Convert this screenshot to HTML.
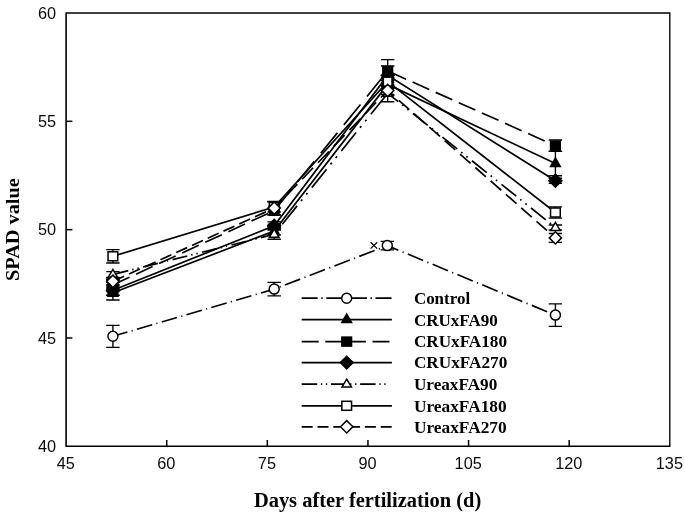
<!DOCTYPE html>
<html><head><meta charset="utf-8"><title>SPAD value chart</title>
<style>html,body{margin:0;padding:0;background:#fff;}svg{display:block;will-change:transform;}</style>
</head><body>
<svg width="685" height="514" viewBox="0 0 685 514">
<rect width="685" height="514" fill="#fff"/>
<path d="M66.1 13.0L669.8 13.0L669.8 446.3" fill="none" stroke="#000" stroke-width="1.35"/>
<path d="M66.1 12.5L66.1 446.3L670.3 446.3" fill="none" stroke="#000" stroke-width="1.6"/>
<path d="M66.1 337.98h6.3" stroke="#000" stroke-width="1.5"/>
<path d="M66.1 229.65h6.3" stroke="#000" stroke-width="1.5"/>
<path d="M66.1 121.33h6.3" stroke="#000" stroke-width="1.5"/>
<path d="M166.72 446.3v-6.3" stroke="#000" stroke-width="1.5"/>
<path d="M267.33 446.3v-6.3" stroke="#000" stroke-width="1.5"/>
<path d="M367.95 446.3v-6.3" stroke="#000" stroke-width="1.5"/>
<path d="M468.57 446.3v-6.3" stroke="#000" stroke-width="1.5"/>
<path d="M569.18 446.3v-6.3" stroke="#000" stroke-width="1.5"/>
<g font-family="Liberation Sans, sans-serif" font-size="16.3" fill="#0a0a0a">
<text x="56.2" y="452.10" text-anchor="end">40</text>
<text x="56.2" y="343.78" text-anchor="end">45</text>
<text x="56.2" y="235.45" text-anchor="end">50</text>
<text x="56.2" y="127.12" text-anchor="end">55</text>
<text x="56.2" y="18.80" text-anchor="end">60</text>
<text x="65.70" y="469.3" text-anchor="middle">45</text>
<text x="166.32" y="469.3" text-anchor="middle">60</text>
<text x="266.93" y="469.3" text-anchor="middle">75</text>
<text x="367.55" y="469.3" text-anchor="middle">90</text>
<text x="468.17" y="469.3" text-anchor="middle">105</text>
<text x="568.78" y="469.3" text-anchor="middle">120</text>
<text x="669.40" y="469.3" text-anchor="middle">135</text>
</g>
<g font-family="Liberation Serif, serif" font-weight="bold" fill="#000">
<text x="253.9" y="506.6" font-size="20" textLength="227.3" lengthAdjust="spacingAndGlyphs">Days after fertilization (d)</text>
<text transform="translate(18.6 281) rotate(-90)" font-size="19" textLength="102.8" lengthAdjust="spacingAndGlyphs">SPAD value</text>
</g>
<path d="M112.90 336.30L274.20 289.10" fill="none" stroke="#000" stroke-width="1.68" stroke-dasharray="15.94 4.38 1.15 4.38" stroke-dashoffset="0.83"/>
<path d="M274.20 289.10L387.30 245.60" fill="none" stroke="#000" stroke-width="1.68" stroke-dasharray="16.39 4.50 1.18 4.50" stroke-dashoffset="15.11"/>
<path d="M387.30 245.60L555.40 315.10" fill="none" stroke="#000" stroke-width="1.68" stroke-dasharray="16.56 4.54 1.19 4.54" stroke-dashoffset="4.60"/>
<path d="M112.90 325.30V347.30M106.20 325.30h13.4M106.20 347.30h13.4M274.20 282.40V295.80M267.50 282.40h13.4M267.50 295.80h13.4M387.30 241.40V249.80M380.60 241.40h13.4M380.60 249.80h13.4M555.40 303.90V326.30M548.70 303.90h13.4M548.70 326.30h13.4" fill="none" stroke="#000" stroke-width="1.35"/>
<circle cx="112.90" cy="336.30" r="5.0" fill="#fff" stroke="#000" stroke-width="1.5"/>
<circle cx="274.20" cy="289.10" r="5.0" fill="#fff" stroke="#000" stroke-width="1.5"/>
<circle cx="387.30" cy="245.60" r="5.0" fill="#fff" stroke="#000" stroke-width="1.5"/>
<circle cx="555.40" cy="315.10" r="5.0" fill="#fff" stroke="#000" stroke-width="1.5"/>
<polyline points="112.90,292.80 274.20,231.00 387.70,84.40 555.40,163.50" fill="none" stroke="#000" stroke-width="1.68"/>
<path d="M112.90 286.80V300.00M106.20 286.80h13.4M106.20 300.00h13.4M274.20 227.00V235.00M267.50 227.00h13.4M267.50 235.00h13.4M387.70 80.40V88.40M381.00 80.40h13.4M381.00 88.40h13.4M555.40 151.30V175.70M548.70 151.30h13.4M548.70 175.70h13.4" fill="none" stroke="#000" stroke-width="1.35"/>
<path d="M112.90 287.20L117.80 295.70L108.00 295.70Z" fill="#000" stroke="#000" stroke-width="1.5" stroke-linejoin="miter"/>
<path d="M274.20 225.40L279.10 233.90L269.30 233.90Z" fill="#000" stroke="#000" stroke-width="1.5" stroke-linejoin="miter"/>
<path d="M387.70 78.80L392.60 87.30L382.80 87.30Z" fill="#000" stroke="#000" stroke-width="1.5" stroke-linejoin="miter"/>
<path d="M555.40 157.90L560.30 166.40L550.50 166.40Z" fill="#000" stroke="#000" stroke-width="1.5" stroke-linejoin="miter"/>
<path d="M112.90 284.80L274.20 210.60" fill="none" stroke="#000" stroke-width="1.68" stroke-dasharray="18.27 7.15" stroke-dashoffset="0.00"/>
<path d="M274.20 210.60L387.70 71.00" fill="none" stroke="#000" stroke-width="1.68" stroke-dasharray="26.31 10.30" stroke-dashoffset="35.98"/>
<path d="M387.70 71.00L555.40 145.70" fill="none" stroke="#000" stroke-width="1.68" stroke-dasharray="18.17 7.12" stroke-dashoffset="23.32"/>
<path d="M112.90 280.20V289.40M106.20 280.20h13.4M106.20 289.40h13.4M274.20 201.70V215.10M267.50 201.70h13.4M267.50 215.10h13.4M387.70 59.60V82.40M381.00 59.60h13.4M381.00 82.40h13.4M555.40 140.00V151.40M548.70 140.00h13.4M548.70 151.40h13.4" fill="none" stroke="#000" stroke-width="1.35"/>
<rect x="108.05" y="280.30" width="9.70" height="9.00" fill="#000" stroke="#000" stroke-width="1.5"/>
<rect x="269.35" y="206.10" width="9.70" height="9.00" fill="#000" stroke="#000" stroke-width="1.5"/>
<rect x="382.85" y="66.50" width="9.70" height="9.00" fill="#000" stroke="#000" stroke-width="1.5"/>
<rect x="550.55" y="141.20" width="9.70" height="9.00" fill="#000" stroke="#000" stroke-width="1.5"/>
<polyline points="112.90,290.30 274.20,225.80 387.70,75.40 555.40,180.70" fill="none" stroke="#000" stroke-width="1.68"/>
<path d="M112.90 282.30V295.30M106.20 282.30h13.4M106.20 295.30h13.4M274.20 221.80V229.80M267.50 221.80h13.4M267.50 229.80h13.4M387.70 66.00V78.40M381.00 66.00h13.4M381.00 78.40h13.4M555.40 178.20V183.20M548.70 178.20h13.4M548.70 183.20h13.4" fill="none" stroke="#000" stroke-width="1.35"/>
<path d="M112.90 283.90L119.30 290.30L112.90 296.70L106.50 290.30Z" fill="#000" stroke="#000" stroke-width="1.5" stroke-linejoin="miter"/>
<path d="M274.20 219.40L280.60 225.80L274.20 232.20L267.80 225.80Z" fill="#000" stroke="#000" stroke-width="1.5" stroke-linejoin="miter"/>
<path d="M387.70 69.00L394.10 75.40L387.70 81.80L381.30 75.40Z" fill="#000" stroke="#000" stroke-width="1.5" stroke-linejoin="miter"/>
<path d="M555.40 174.30L561.80 180.70L555.40 187.10L549.00 180.70Z" fill="#000" stroke="#000" stroke-width="1.5" stroke-linejoin="miter"/>
<rect x="107.3" y="277" width="11.2" height="20" fill="#000"/><path d="M106.20 277.60h13.4M106.20 279.60h13.4M106.20 282.00h13.4M106.20 285.00h13.4M106.20 288.00h13.4M106.20 291.50h13.4M106.20 295.30h13.4" stroke="#000" stroke-width="1.4" fill="none"/><rect x="267.7" y="223.6" width="13.1" height="7" fill="#000"/>
<path d="M112.90 274.50L274.20 234.30" fill="none" stroke="#000" stroke-width="1.68" stroke-dasharray="15.25 4.02 1.34 4.02 1.34 4.43" stroke-dashoffset="29.78"/>
<path d="M274.20 234.30L387.70 93.30" fill="none" stroke="#000" stroke-width="1.68" stroke-dasharray="23.60 6.22 2.07 6.22 2.07 6.86" stroke-dashoffset="34.13"/>
<path d="M387.70 93.30L555.40 227.50" fill="none" stroke="#000" stroke-width="1.68" stroke-dasharray="18.96 5.00 1.67 5.00 1.67 5.51" stroke-dashoffset="5.51"/>
<path d="M112.90 271.60V279.00M106.20 271.60h13.4M106.20 279.00h13.4M274.20 228.80V239.20M267.50 228.80h13.4M267.50 239.20h13.4M387.70 84.90V101.70M381.00 84.90h13.4M381.00 101.70h13.4M555.40 225.00V230.00M548.70 225.00h13.4M548.70 230.00h13.4" fill="none" stroke="#000" stroke-width="1.35"/>
<path d="M112.90 269.40L117.65 277.40L108.15 277.40Z" fill="#fff" stroke="#000" stroke-width="1.5" stroke-linejoin="miter"/>
<path d="M274.20 229.20L278.95 237.20L269.45 237.20Z" fill="#fff" stroke="#000" stroke-width="1.5" stroke-linejoin="miter"/>
<path d="M387.70 88.20L392.45 96.20L382.95 96.20Z" fill="#fff" stroke="#000" stroke-width="1.5" stroke-linejoin="miter"/>
<path d="M555.40 222.40L560.15 230.40L550.65 230.40Z" fill="#fff" stroke="#000" stroke-width="1.5" stroke-linejoin="miter"/>
<polyline points="112.90,256.30 274.20,207.00 387.70,81.70 555.40,212.50" fill="none" stroke="#000" stroke-width="1.68"/>
<path d="M112.90 249.60V263.00M106.20 249.60h13.4M106.20 263.00h13.4M274.20 201.70V212.00M267.50 201.70h13.4M267.50 212.00h13.4M387.70 77.70V85.70M381.00 77.70h13.4M381.00 85.70h13.4M555.40 206.90V218.10M548.70 206.90h13.4M548.70 218.10h13.4" fill="none" stroke="#000" stroke-width="1.35"/>
<rect x="108.05" y="251.80" width="9.70" height="9.00" fill="#fff" stroke="#000" stroke-width="1.5"/>
<rect x="269.35" y="202.50" width="9.70" height="9.00" fill="#fff" stroke="#000" stroke-width="1.5"/>
<rect x="382.85" y="77.20" width="9.70" height="9.00" fill="#fff" stroke="#000" stroke-width="1.5"/>
<rect x="550.55" y="208.00" width="9.70" height="9.00" fill="#fff" stroke="#000" stroke-width="1.5"/>
<path d="M382.9 77.3v9M392.5 77.3v9" stroke="#000" stroke-width="2.4" fill="none"/>
<path d="M112.90 281.30L274.20 208.10" fill="none" stroke="#000" stroke-width="1.68" stroke-dasharray="11.97 5.33" stroke-dashoffset="16.97"/>
<path d="M274.20 208.10L387.70 90.50" fill="none" stroke="#000" stroke-width="1.68" stroke-dasharray="15.70 6.98" stroke-dashoffset="5.04"/>
<path d="M387.70 90.50L555.40 237.90" fill="none" stroke="#000" stroke-width="1.68" stroke-dasharray="14.10 6.27" stroke-dashoffset="5.59"/>
<path d="M112.90 277.50V285.10M106.20 277.50h13.4M106.20 285.10h13.4M274.20 201.30V214.90M267.50 201.30h13.4M267.50 214.90h13.4M387.70 86.50V94.50M381.00 86.50h13.4M381.00 94.50h13.4M555.40 233.50V242.30M548.70 233.50h13.4M548.70 242.30h13.4" fill="none" stroke="#000" stroke-width="1.35"/>
<path d="M112.90 275.15L119.05 281.30L112.90 287.45L106.75 281.30Z" fill="#fff" stroke="#000" stroke-width="1.5" stroke-linejoin="miter"/>
<path d="M274.20 201.95L280.35 208.10L274.20 214.25L268.05 208.10Z" fill="#fff" stroke="#000" stroke-width="1.5" stroke-linejoin="miter"/>
<path d="M387.70 84.35L393.85 90.50L387.70 96.65L381.55 90.50Z" fill="#fff" stroke="#000" stroke-width="1.5" stroke-linejoin="miter"/>
<path d="M555.40 231.75L561.55 237.90L555.40 244.05L549.25 237.90Z" fill="#fff" stroke="#000" stroke-width="1.5" stroke-linejoin="miter"/>
<path d="M370.6 242.2l6.6 6.4M377.2 242.2l-6.6 6.4" stroke="#000" stroke-width="1.2" fill="none"/>
<g font-family="Liberation Serif, serif" font-weight="bold" font-size="17" fill="#000">
<path d="M301.7 298.2H391.9" stroke="#000" stroke-width="1.68" stroke-dasharray="16 3.6 1.4 3.6" fill="none"/>
<circle cx="346.70" cy="298.20" r="5.0" fill="#fff" stroke="#000" stroke-width="1.5"/>
<text x="413.9" y="304.0" textLength="56.2" lengthAdjust="spacingAndGlyphs">Control</text>
<path d="M301.7 319.7H391.9" stroke="#000" stroke-width="1.68" fill="none"/>
<path d="M346.70 314.10L351.60 322.60L341.80 322.60Z" fill="#000" stroke="#000" stroke-width="1.5" stroke-linejoin="miter"/>
<text x="413.9" y="325.5" textLength="84.0" lengthAdjust="spacingAndGlyphs">CRUxFA90</text>
<path d="M301.7 341.6H391.9" stroke="#000" stroke-width="1.68" stroke-dasharray="17 6.6" fill="none"/>
<rect x="341.85" y="337.10" width="9.70" height="9.00" fill="#000" stroke="#000" stroke-width="1.5"/>
<text x="413.9" y="347.4" textLength="93.1" lengthAdjust="spacingAndGlyphs">CRUxFA180</text>
<path d="M301.7 362.6H391.9" stroke="#000" stroke-width="1.68" fill="none"/>
<path d="M346.70 356.20L353.10 362.60L346.70 369.00L340.30 362.60Z" fill="#000" stroke="#000" stroke-width="1.5" stroke-linejoin="miter"/>
<text x="413.9" y="368.4" textLength="93.4" lengthAdjust="spacingAndGlyphs">CRUxFA270</text>
<path d="M301.7 384.2H388.0" stroke="#000" stroke-width="1.68" stroke-dasharray="15.5 3.7 1.3 3.7 1.3 3.7" fill="none"/>
<path d="M346.70 379.10L351.45 387.10L341.95 387.10Z" fill="#fff" stroke="#000" stroke-width="1.5" stroke-linejoin="miter"/>
<text x="413.9" y="390.0" textLength="83.4" lengthAdjust="spacingAndGlyphs">UreaxFA90</text>
<path d="M301.7 405.8H391.9" stroke="#000" stroke-width="1.68" fill="none"/>
<rect x="341.85" y="401.30" width="9.70" height="9.00" fill="#fff" stroke="#000" stroke-width="1.5"/>
<text x="413.9" y="411.6" textLength="92.8" lengthAdjust="spacingAndGlyphs">UreaxFA180</text>
<path d="M301.7 426.8H391.9" stroke="#000" stroke-width="1.68" stroke-dasharray="11 4.8" fill="none"/>
<path d="M346.70 420.65L352.85 426.80L346.70 432.95L340.55 426.80Z" fill="#fff" stroke="#000" stroke-width="1.5" stroke-linejoin="miter"/>
<text x="413.9" y="432.6" textLength="92.8" lengthAdjust="spacingAndGlyphs">UreaxFA270</text>
</g>
</svg>
</body></html>
